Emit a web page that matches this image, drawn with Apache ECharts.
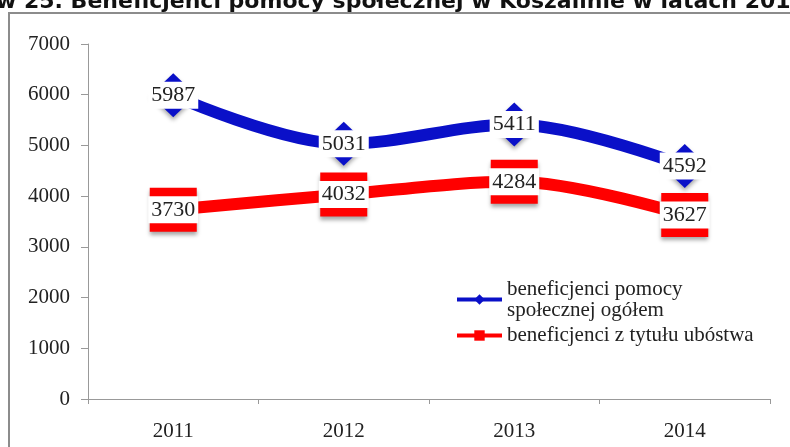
<!DOCTYPE html>
<html>
<head>
<meta charset="utf-8">
<script src="https://cdn.jsdelivr.net/npm/echarts@6/dist/echarts.min.js"></script>
<style>
  html, body { margin: 0; padding: 0; background: #fff; }
  #chart { width: 790px; height: 447px; }
</style>
</head>
<body>
<div id="chart"></div>
<script>
// dane z wykresu
var years = ["2011", "2012", "2013", "2014"];
var ogolem = [5987, 5031, 5411, 4592];
var ubostwo = [3730, 4032, 4284, 3627];
var yTicks = [0, 1000, 2000, 3000, 4000, 5000, 6000, 7000];

var nameOgolem = "beneficjenci pomocy społecznej ogółem";
var nameUbostwo = "beneficjenci z tytułu ubóstwa";

var serif = "Liberation Serif";

var labelStyle = {
  show: true,
  position: "inside",
  fontFamily: serif,
  fontSize: 22,
  color: "#222",
  backgroundColor: "#fff",
  padding: [3, 3, 2, 3]
};

var chart = echarts.init(document.getElementById("chart"));

var option = {
  animation: false,
  backgroundColor: "#fff",
  graphic: [
    {
      type: "rect",
      shape: { x: 9, y: 13, width: 820, height: 480 },
      style: { fill: "none", stroke: "#8c8c8c", lineWidth: 2 },
      z: 0
    },
    {
      type: "text",
      x: -4,
      y: 13,
      style: {
        text: "w 25. Beneficjenci pomocy społecznej w Koszalinie w latach 2011-2014",
        font: "bold 22px 'DejaVu Sans'",
        fill: "#111",
        verticalAlign: "bottom"
      }
    }
  ],
  grid: { left: 88, right: 20, top: 44, bottom: 48 },
  legend: [
    {
      data: [nameOgolem],
      left: 450,
      top: 263,
      itemWidth: 45,
      itemHeight: 13,
      itemGap: 4,
      lineStyle: { width: 4 },
      itemStyle: { shadowBlur: 0, shadowOffsetY: 0 },
      formatter: function () { return "beneficjenci pomocy\nspołecznej ogółem"; },
      textStyle: { fontFamily: serif, fontSize: 21, color: "#222", lineHeight: 21, padding: [21, 0, 0, 0] }
    },
    {
      data: [nameUbostwo],
      left: 450,
      top: 320,
      itemWidth: 45,
      itemHeight: 13,
      itemGap: 4,
      lineStyle: { width: 4 },
      itemStyle: { shadowBlur: 0, shadowOffsetY: 0 },
      textStyle: { fontFamily: serif, fontSize: 21, color: "#222" }
    }
  ],
  xAxis: {
    type: "category",
    data: years,
    boundaryGap: true,
    axisLine: { lineStyle: { color: "#999", width: 1 } },
    axisTick: { show: true, length: 5, lineStyle: { color: "#999" } },
    axisLabel: { fontFamily: serif, fontSize: 21, color: "#222", margin: 22 }
  },
  yAxis: {
    type: "value",
    min: yTicks[0],
    max: yTicks[yTicks.length - 1],
    interval: 1000,
    splitLine: { show: false },
    axisLine: { show: true, lineStyle: { color: "#999", width: 1 } },
    axisTick: { show: true, length: 7, lineStyle: { color: "#999" } },
    axisLabel: {
      fontFamily: serif, fontSize: 21, color: "#222", margin: 18,
      formatter: function (v) { return String(v); }
    }
  },
  series: [
    {
      name: nameOgolem,
      type: "line",
      data: ogolem,
      smooth: 0.35,
      symbol: "diamond",
      symbolSize: [46, 44],
      lineStyle: { color: "#0a10c8", width: 12 },
      itemStyle: {
        color: "#0a10c8",
        shadowBlur: 4,
        shadowColor: "rgba(0,0,0,0.35)",
        shadowOffsetY: 3
      },
      label: labelStyle,
      z: 3
    },
    {
      name: nameUbostwo,
      type: "line",
      data: ubostwo,
      smooth: 0.35,
      symbol: "rect",
      symbolSize: [47, 44],
      lineStyle: { color: "#ff0000", width: 12 },
      itemStyle: {
        color: "#ff0000",
        shadowBlur: 4,
        shadowColor: "rgba(0,0,0,0.35)",
        shadowOffsetY: 3
      },
      label: labelStyle,
      z: 2
    }
  ]
};

chart.setOption(option);
</script>
</body>
</html>
